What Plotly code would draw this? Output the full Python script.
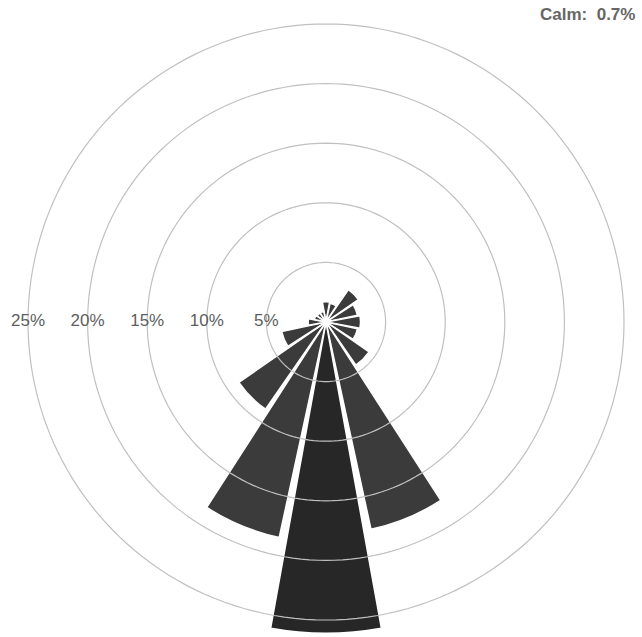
import plotly.graph_objects as go

directions = ["N", "NNE", "NE", "ENE", "E", "ESE", "SE", "SSE",
              "S", "SSW", "SW", "WSW", "W", "WNW", "NW", "NNW"]
frequency = [1.7, 1.6, 3.3, 2.7, 2.9, 2.7, 4.4, 17.8,
             26.1, 18.5, 8.9, 3.8, 1.5, 1.0, 0.9, 0.9]
ring_values = [5, 10, 15, 20, 25]
ring_labels = ["5%", "10%", "15%", "20%", "25%"]
calm_text = "Calm:  0.7%"

angles = [i * 360 / len(directions) for i in range(len(directions))]
colors = ["#272727" if d == "S" else "#3b3b3b" for d in directions]

fig = go.Figure()
fig.add_trace(go.Barpolar(
    r=frequency, theta=angles, width=[20.5] * len(directions),
    marker=dict(color=colors, line=dict(color="white", width=1.5)),
    hovertext=directions, showlegend=False,
))

circle_theta = [i * 2 for i in range(181)]
for rv in ring_values:
    fig.add_trace(go.Scatterpolar(
        r=[rv] * len(circle_theta), theta=circle_theta, mode="lines",
        line=dict(color="#c0c0c0", width=1.2), showlegend=False, hoverinfo="skip",
    ))

fig.add_trace(go.Scatterpolar(
    r=ring_values, theta=[270] * len(ring_values), mode="text",
    text=ring_labels, textposition="middle center",
    textfont=dict(family="Liberation Sans, Arial", size=17, color="#5e5e5e"),
    showlegend=False, hoverinfo="skip",
))

W, H = 642, 637
cx, cy = 326, 322
R = 313.5
fig.update_layout(
    width=W, height=H, margin=dict(l=0, r=0, t=0, b=0),
    paper_bgcolor="white", plot_bgcolor="white",
    polar=dict(
        domain=dict(x=[(cx - R) / W, (cx + R) / W],
                    y=[(H - cy - R) / H, (H - cy + R) / H]),
        bgcolor="white",
        radialaxis=dict(range=[0, 26.3], visible=False, showgrid=False),
        angularaxis=dict(rotation=90, direction="clockwise", visible=False,
                         showgrid=False),
    ),
    annotations=[dict(
        text="<b>" + calm_text + "</b>", x=1, y=1, xref="paper", yref="paper",
        xanchor="right", yanchor="top", xshift=-5, yshift=-3, showarrow=False,
        font=dict(family="Liberation Sans, Arial", size=17, color="#666666"),
    )],
)
fig.write_html("out.html")
